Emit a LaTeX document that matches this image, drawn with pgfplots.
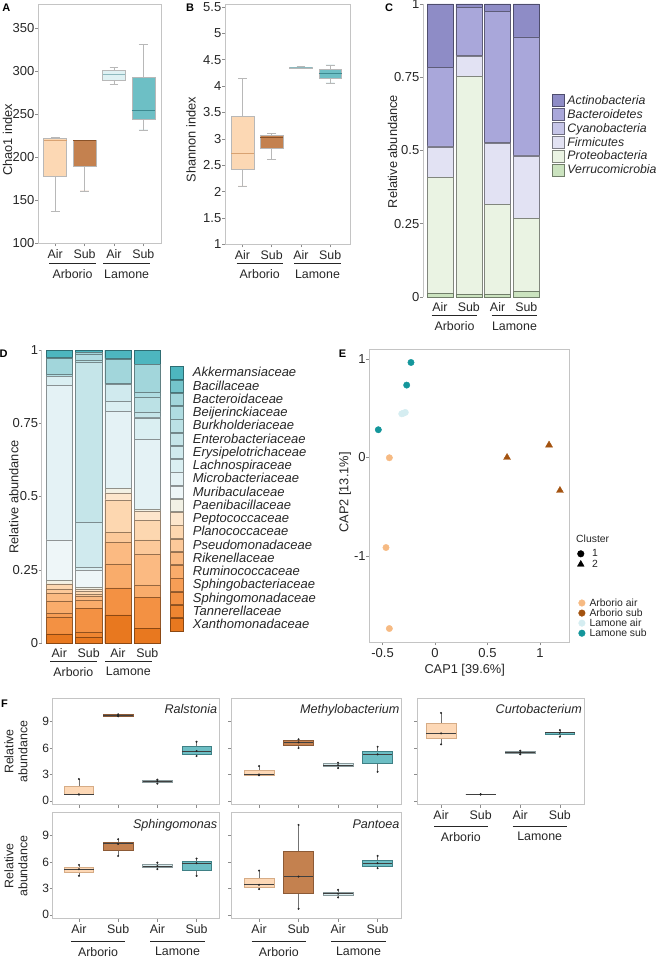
\documentclass[border=0pt]{standalone}
\usepackage{fontspec}
\setmainfont{Liberation Sans}
\usepackage{pgfplots}
\pgfplotsset{compat=1.18}
\usepgfplotslibrary{statistics}

\newcommand{\fsz}[1]{\fontsize{#1}{#1}\selectfont}

% general
\definecolor{txt}{HTML}{262626}
\definecolor{frame}{HTML}{C4C4C4}
\definecolor{tickc}{HTML}{8C8C8C}
\definecolor{boxedge}{HTML}{B8B8B8}
% box plots A, B
\definecolor{aa}{HTML}{FCD8B4}\definecolor{aaM}{HTML}{D8A272}
\definecolor{as}{HTML}{C4814F}\definecolor{asM}{HTML}{8A5228}
\definecolor{la}{HTML}{DFF1F3}\definecolor{laM}{HTML}{8DB9BE}
\definecolor{ls}{HTML}{6DBFC5}\definecolor{lsM}{HTML}{3D8A90}
% box plots F
\definecolor{fa}{HTML}{FDD8B6}\definecolor{faE}{HTML}{D6AC86}
\definecolor{fs}{HTML}{C4814F}\definecolor{fsE}{HTML}{8C5A36}
\definecolor{fl}{HTML}{D9EDF0}\definecolor{flE}{HTML}{8A9A9C}
\definecolor{fls}{HTML}{6CBEC4}\definecolor{flsE}{HTML}{3F8085}
% scatter E
\definecolor{eaa}{HTML}{F6BA83}
\definecolor{eas}{HTML}{A3520F}
\definecolor{ela}{HTML}{D5EDF1}
\definecolor{els}{HTML}{14969B}
% phyla C
\definecolor{cAct}{HTML}{8E8CC6}
\definecolor{cBac}{HTML}{A9A7DA}
\definecolor{cCya}{HTML}{C6C5E8}
\definecolor{cFir}{HTML}{E2E2F3}
\definecolor{cPro}{HTML}{EAF3E3}
\definecolor{cVer}{HTML}{CBE3BF}
% families D
\definecolor{d01}{HTML}{4DB6BF}
\definecolor{d02}{HTML}{74C4CB}
\definecolor{d03}{HTML}{A2D6DB}
\definecolor{d04}{HTML}{AFDCE1}
\definecolor{d05}{HTML}{BBE1E5}
\definecolor{d06}{HTML}{C5E5E9}
\definecolor{d07}{HTML}{D0EAEE}
\definecolor{d08}{HTML}{DAEFF2}
\definecolor{d09}{HTML}{E4F2F5}
\definecolor{d10}{HTML}{EEF6F8}
\definecolor{d11}{HTML}{F2F1E5}
\definecolor{d12}{HTML}{FDE6CC}
\definecolor{d13}{HTML}{FDD7B0}
\definecolor{d14}{HTML}{FCC99A}
\definecolor{d15}{HTML}{FBBA82}
\definecolor{d16}{HTML}{F9AC6B}
\definecolor{d17}{HTML}{F79E56}
\definecolor{d18}{HTML}{F39143}
\definecolor{d19}{HTML}{EF8631}
\definecolor{d20}{HTML}{E8781F}

\pgfplotsset{
  base/.style={
    scale only axis, anchor=north west, enlargelimits=false, clip=false,
    axis line style={draw=frame, line width=0.8pt},
    tick style={draw=tickc, line width=0.5pt},
    tick align=outside, major tick length=3pt,
    xtick pos=left, ytick pos=left,
    tick label style={font=\fsz{13}, text=txt},
    /pgf/number format/assume math mode=true,
    yticklabel style={inner sep=0.5pt},
    xticklabel style={inner sep=0pt, yshift=-2.8pt},
  },
  cat/.style={xtick={1,2,3,4}, xticklabels={Air,Sub,Air,Sub},
    xticklabel style={font=\fsz{12.4}}},
  stackax/.style={base, cat, ybar stacked, ymin=0, ymax=1,
    axis y line*=left, axis x line*=bottom,
    y axis line style={-, draw=frame, line width=0.8pt},
    x axis line style={draw=none}, xtick style={draw=none},
    ytick={0,0.25,0.5,0.75,1}},
  fax/.style={base, cat, height=106pt, ymin=-0.45, ymax=11.62,
    ytick={0,3,6,9}, yticklabel style={font=\fsz{12}}},
  leg/.style={draw=none, fill=none, inner sep=0pt, outer sep=0pt,
    column sep=0pt, nodes={inner sep=0pt, text=txt}},
}
\tikzset{
  lab/.style={font=\fsz{12.8}, text=txt, inner sep=0pt},
  pl/.style={font=\bfseries\fsz{11}, text=black, inner sep=0pt},
  ftitle/.style={anchor=north east, font=\itshape\fsz{12.6}, text=txt, inner sep=2pt},
}

% box plot for A and B: position, whiskers, quartiles, median, fill, median colour
\newcommand{\bx}[8]{\addplot[draw=boxedge, line width=0.5pt, fill=#7,
  boxplot prepared={draw direction=y, draw position=#1, lower whisker=#2,
    lower quartile=#3, median=#4, upper quartile=#5, upper whisker=#6,
    box extend=0.78, whisker extend=0.3,
    every median/.style={draw=#8, line width=1pt}}]
  coordinates {};}
% box plot for F, with its three samples
\newcommand{\fb}[8]{\addplot[draw=#8, line width=0.6pt, fill=#7,
  boxplot prepared={draw direction=y, draw position=#1, lower whisker=#2,
    lower quartile=#3, median=#4, upper quartile=#5, upper whisker=#6,
    box extend=0.75, whisker extend=0,
    every median/.style={draw=black!75, line width=0.8pt},
    every whisker/.style={draw=black!55, line width=0.5pt}}]
  coordinates {};
  \addplot[only marks, mark=*, mark size=0.8pt, black!85]
  coordinates {(#1,#2) (#1,#4) (#1,#6)};}
% site labels under the categories
\newcommand{\grp}[6]{%
  \draw[txt, line width=0.7pt] (#1pt,-#5pt) -- (#2pt,-#5pt) (#3pt,-#5pt) -- (#4pt,-#5pt);
  \node[font=\fsz{12.4}, text=txt, inner sep=0pt] at ({(#1+#2)/2*1pt},-#6pt) {Arborio};
  \node[font=\fsz{12.4}, text=txt, inner sep=0pt] at ({(#3+#4)/2*1pt},-#6pt) {Lamone};}

\begin{document}
\begin{tikzpicture}
\useasboundingbox (0pt,0pt) rectangle (662pt,-957pt);

% ---------- A: Chao1
\begin{axis}[base, cat, at={(38pt,-4pt)}, width=123pt, height=239.3pt,
  xmin=0.415, xmax=4.6, ymin=100, ymax=378.3, ytick={100,150,...,350}]
\bx{1}{137}{178}{220}{222}{223}{aa}{aaM}
\bx{2}{161}{190}{219}{219.5}{220}{as}{asM}
\bx{3}{285}{290}{296}{301}{305}{la}{laM}
\bx{4}{232}{244}{255}{293}{331}{ls}{lsM}
\end{axis}

% ---------- B: Shannon
\begin{axis}[base, cat, at={(225pt,-4pt)}, width=125pt, height=240.5pt,
  xmin=0.40, xmax=4.68, ymin=1, ymax=5.555,
  ytick={1,1.5,2,2.5,3,3.5,4,4.5,5,5.5}]
\bx{1}{2.11}{2.42}{2.72}{3.43}{4.14}{aa}{aaM}
\bx{2}{2.61}{2.82}{3.03}{3.07}{3.10}{as}{asM}
\bx{3}{4.33}{4.34}{4.35}{4.36}{4.37}{la}{laM}
\bx{4}{4.06}{4.14}{4.24}{4.31}{4.40}{ls}{lsM}
\end{axis}

% ---------- C: phyla
\begin{axis}[stackax, at={(423pt,-4pt)}, width=118pt, height=293pt,
  xmin=0.409, xmax=4.51, bar width=26pt,
  legend image code/.code={\draw[#1] (0pt,-6pt) rectangle (12pt,6pt);
    \path[draw=none, fill=none] (0pt,0pt) -- (15.3pt,0pt);},
  reverse legend, legend cell align=left,
  legend style={leg, at={(rel axis cs:1.093,0.692)}, anchor=north west,
    row sep=1.5pt, font=\itshape\fontsize{12.3}{13.3}\selectfont}]
\addplot[fill=cVer, draw=cVer!55!black] coordinates {(1,0.012) (2,0.008) (3,0.010) (4,0.020)};
\addlegendentry{\strut Verrucomicrobia}
\addplot[fill=cPro, draw=cPro!55!black] coordinates {(1,0.396) (2,0.745) (3,0.307) (4,0.249)};
\addlegendentry{\strut Proteobacteria}
\addplot[fill=cFir, draw=cFir!55!black] coordinates {(1,0.104) (2,0.069) (3,0.207) (4,0.213)};
\addlegendentry{\strut Firmicutes}
\addplot[fill=cCya, draw=cCya!55!black] coordinates {(1,0.004) (2,0.002) (3,0.003) (4,0.003)};
\addlegendentry{\strut Cyanobacteria}
\addplot[fill=cBac, draw=cBac!55!black] coordinates {(1,0.268) (2,0.165) (3,0.447) (4,0.403)};
\addlegendentry{\strut Bacteroidetes}
\addplot[fill=cAct, draw=cAct!55!black] coordinates {(1,0.216) (2,0.011) (3,0.026) (4,0.112)};
\addlegendentry{\strut Actinobacteria}
\end{axis}

% ---------- D: families
\begin{axis}[stackax, at={(41.7pt,-350pt)}, width=120.3pt, height=293pt,
  xmin=0.4, xmax=4.5, bar width=26.5pt,
  legend image code/.code={\draw[#1] (0pt,-6.2pt) rectangle (12.7pt,6.2pt);
    \path[draw=none, fill=none] (0pt,0pt) -- (22.7pt,0pt);},
  reverse legend, legend cell align=left,
  legend style={leg, at={(rel axis cs:1.0665,0.944)}, anchor=north west,
    row sep=0.45pt, font=\itshape\fontsize{13}{13.98}\selectfont}]
\addplot[fill=d20, draw=d20!60!black] coordinates {(1,0.031) (2,0.020) (3,0.096) (4,0.050)};
\addlegendentry{\strut Xanthomonadaceae}
\addplot[fill=d19, draw=d19!60!black] coordinates {(1,0.000) (2,0.016) (3,0.000) (4,0.000)};
\addlegendentry{\strut Tannerellaceae}
\addplot[fill=d18, draw=d18!60!black] coordinates {(1,0.058) (2,0.083) (3,0.092) (4,0.106)};
\addlegendentry{\strut Sphingomonadaceae}
\addplot[fill=d17, draw=d17!60!black] coordinates {(1,0.013) (2,0.000) (3,0.000) (4,0.000)};
\addlegendentry{\strut Sphingobacteriaceae}
\addplot[fill=d16, draw=d16!60!black] coordinates {(1,0.042) (2,0.026) (3,0.082) (4,0.042)};
\addlegendentry{\strut Ruminococcaceae}
\addplot[fill=d15, draw=d15!60!black] coordinates {(1,0.026) (2,0.014) (3,0.074) (4,0.105)};
\addlegendentry{\strut Rikenellaceae}
\addplot[fill=d14, draw=d14!60!black] coordinates {(1,0.015) (2,0.008) (3,0.033) (4,0.049)};
\addlegendentry{\strut Pseudomonadaceae}
\addplot[fill=d13, draw=d13!60!black] coordinates {(1,0.017) (2,0.009) (3,0.112) (4,0.066)};
\addlegendentry{\strut Planococcaceae}
\addplot[fill=d12, draw=d12!60!black] coordinates {(1,0.000) (2,0.008) (3,0.023) (4,0.031)};
\addlegendentry{\strut Peptococcaceae}
\addplot[fill=d11, draw=d11!60!black] coordinates {(1,0.011) (2,0.007) (3,0.017) (4,0.008)};
\addlegendentry{\strut Paenibacillaceae}
\addplot[fill=d10, draw=d10!60!black] coordinates {(1,0.139) (2,0.059) (3,0.000) (4,0.000)};
\addlegendentry{\strut Muribaculaceae}
\addplot[fill=d09, draw=d09!60!black] coordinates {(1,0.527) (2,0.000) (3,0.262) (4,0.239)};
\addlegendentry{\strut Microbacteriaceae}
\addplot[fill=d08, draw=d08!60!black] coordinates {(1,0.033) (2,0.009) (3,0.033) (4,0.072)};
\addlegendentry{\strut Lachnospiraceae}
\addplot[fill=d07, draw=d07!60!black] coordinates {(1,0.000) (2,0.152) (3,0.058) (4,0.004)};
\addlegendentry{\strut Erysipelotrichaceae}
\addplot[fill=d06, draw=d06!60!black] coordinates {(1,0.000) (2,0.547) (3,0.000) (4,0.017)};
\addlegendentry{\strut Enterobacteriaceae}
\addplot[fill=d05, draw=d05!60!black] coordinates {(1,0.000) (2,0.008) (3,0.000) (4,0.051)};
\addlegendentry{\strut Burkholderiaceae}
\addplot[fill=d04, draw=d04!60!black] coordinates {(1,0.005) (2,0.018) (3,0.004) (4,0.015)};
\addlegendentry{\strut Beijerinckiaceae}
\addplot[fill=d03, draw=d03!60!black] coordinates {(1,0.055) (2,0.008) (3,0.081) (4,0.097)};
\addlegendentry{\strut Bacteroidaceae}
\addplot[fill=d02, draw=d02!60!black] coordinates {(1,0.003) (2,0.000) (3,0.006) (4,0.000)};
\addlegendentry{\strut Bacillaceae}
\addplot[fill=d01, draw=d01!60!black] coordinates {(1,0.025) (2,0.008) (3,0.027) (4,0.048)};
\addlegendentry{\strut Akkermansiaceae}
\end{axis}

% ---------- E: CAP ordination
\begin{axis}[base, at={(369.3pt,-349.3pt)}, width=200pt, height=293pt,
  xmin=-0.626, xmax=1.279, ymin=-1.88, ymax=1.10,
  xtick={-0.5,0,0.5,1}, ytick={-1,0,1},
  legend image code/.code={\fill[#1] (3.3pt,0pt) circle (3.3pt);
    \path[draw=none, fill=none] (0pt,0pt) -- (10.9pt,0pt);},
  legend cell align=left,
  legend style={leg, at={(rel axis cs:1.0455,0.150)}, anchor=north west,
    row sep=0.8pt, font=\fontsize{10.4}{11.1}\selectfont}]
\addplot[only marks, mark=*, mark size=3.2pt, eaa] coordinates {(-0.435,-0.003) (-0.467,-0.916) (-0.435,-1.74)};
\addlegendentry{\strut Arborio air}
\addplot[only marks, mark=triangle*, mark size=4pt, eas] coordinates {(0.686,0.0) (1.086,0.126) (1.19,-0.336)};
\addlegendentry{\strut Arborio sub}
\addplot[only marks, mark=*, mark size=3.2pt, ela] coordinates {(-0.317,0.444) (-0.283,0.458) (-0.300,0.450)};
\addlegendentry{\strut Lamone air}
\addplot[only marks, mark=*, mark size=3.2pt, els] coordinates {(-0.229,0.966) (-0.270,0.736) (-0.540,0.282)};
\addlegendentry{\strut Lamone sub}
\end{axis}
% cluster shapes legend
\begin{axis}[at={(369.3pt,-349.3pt)}, anchor=north west, scale only axis,
  width=200pt, height=293pt, hide axis, xmin=0, xmax=1, ymin=0, ymax=1,
  legend image code/.code={\draw[#1] plot coordinates {(3.3pt,0pt)};
    \path[draw=none, fill=none] (0pt,0pt) -- (14.6pt,0pt);},
  legend cell align=left,
  legend style={leg, at={(rel axis cs:1.0405,0.318)}, anchor=north west,
    row sep=1.2pt, font=\fontsize{10.4}{11.2}\selectfont}]
\addplot[draw=none, forget plot] coordinates {(0,0)};
\addlegendimage{only marks, mark=*, mark size=3.3pt, black}
\addlegendentry{\strut 1}
\addlegendimage{only marks, mark=triangle*, mark size=3.9pt, black}
\addlegendentry{\strut 2}
\end{axis}

% ---------- F: genera
\begin{axis}[fax, at={(52.7pt,-698.7pt)}, width=166.6pt, xmin=0.33, xmax=4.58,
  xticklabels={}]
\fb{1}{0.70}{0.72}{0.73}{1.60}{2.47}{fa}{faE}
\fb{2}{9.62}{9.66}{9.70}{9.80}{9.85}{fs}{fsE}
\fb{3}{1.95}{2.10}{2.24}{2.30}{2.40}{fl}{flE}
\fb{4}{5.09}{5.32}{5.66}{6.15}{6.72}{fls}{flsE}
\node[ftitle, yshift=-3.3pt] at (rel axis cs:1,1) {Ralstonia};
\end{axis}

\begin{axis}[fax, at={(231pt,-698.7pt)}, width=170.7pt, xmin=0.29, xmax=4.61,
  xticklabels={}, yticklabels={}]
\fb{1}{2.90}{2.95}{3.00}{3.45}{3.95}{fa}{faE}
\fb{2}{6.00}{6.35}{6.65}{6.90}{7.00}{fs}{fsE}
\fb{3}{3.72}{3.87}{4.05}{4.26}{4.33}{fl}{flE}
\fb{4}{3.30}{4.26}{5.28}{5.66}{6.15}{fls}{flsE}
\node[ftitle, yshift=-3.3pt] at (rel axis cs:1,1) {Methylobacterium};
\end{axis}

\begin{axis}[fax, at={(417.3pt,-698.7pt)}, width=166.7pt, xmin=0.40, xmax=4.61,
  yticklabels={}]
\fb{1}{6.42}{7.10}{7.67}{8.81}{10.0}{fa}{faE}
\fb{2}{0.73}{0.73}{0.73}{0.73}{0.73}{fs}{black!70}
\fb{3}{5.30}{5.40}{5.51}{5.60}{5.70}{fl}{flE}
\fb{4}{7.30}{7.55}{7.74}{7.85}{8.05}{fls}{flsE}
\node[ftitle, yshift=-3.3pt] at (rel axis cs:1,1) {Curtobacterium};
\end{axis}

\begin{axis}[fax, at={(52.7pt,-812.7pt)}, width=166.6pt, xmin=0.33, xmax=4.58]
\fb{1}{4.43}{4.85}{5.19}{5.42}{5.68}{fa}{faE}
\fb{2}{6.70}{7.39}{8.07}{8.30}{8.60}{fs}{fsE}
\fb{3}{5.20}{5.42}{5.55}{5.76}{5.94}{fl}{flE}
\fb{4}{4.43}{5.11}{5.87}{6.14}{6.40}{fls}{flsE}
\node[ftitle, yshift=-4.6pt] at (rel axis cs:1,1) {Sphingomonas};
\end{axis}

\begin{axis}[fax, at={(231pt,-812.7pt)}, width=170.7pt, xmin=0.29, xmax=4.61,
  yticklabels={}]
\fb{1}{2.92}{3.10}{3.41}{4.17}{5.03}{fa}{faE}
\fb{2}{0.68}{2.47}{4.35}{7.27}{10.23}{fs}{fsE}
\fb{3}{1.97}{2.27}{2.40}{2.58}{2.84}{fl}{flE}
\fb{4}{5.30}{5.57}{5.87}{6.25}{6.70}{fls}{flsE}
\node[ftitle, yshift=-4.6pt] at (rel axis cs:1,1) {Pantoea};
\end{axis}

% ---------- labels outside the axes
\node[pl] at (6.3pt,-8pt) {A};
\node[pl] at (190pt,-8pt) {B};
\node[pl] at (389pt,-8pt) {C};
\node[pl] at (3.7pt,-353.7pt) {D};
\node[pl] at (342.5pt,-353.7pt) {E};
\node[pl] at (4.5pt,-703.3pt) {F};

\node[lab, rotate=90] at (7.5pt,-140pt) {Chao1 index};
\node[lab, rotate=90] at (191pt,-139.5pt) {Shannon index};
\node[lab, rotate=90] at (392.5pt,-151.5pt) {Relative abundance};
\node[lab, rotate=90] at (13.8pt,-497pt) {Relative abundance};
\node[lab, rotate=90] at (345pt,-492.5pt) {CAP2 [13.1\%]};
\node[lab] at (464.7pt,-670pt) {CAP1 [39.6\%]};
\node[lab, rotate=90, align=center, font=\fontsize{12.4}{14}\selectfont] at (16pt,-751.5pt) {Relative\\abundance};
\node[lab, rotate=90, align=center, font=\fontsize{12.4}{14}\selectfont] at (16pt,-866pt) {Relative\\abundance};
\node[anchor=west, inner sep=0pt, font=\fsz{10.4}, text=txt] at (576pt,-538.3pt) {Cluster};

\grp{49.3}{95.7}{103.3}{150}{263}{274}
\grp{236.7}{282.7}{294.3}{340.7}{263.3}{274}
\grp{431.7}{477.3}{491.7}{537.3}{315}{326}
\grp{50}{96.7}{105}{151.7}{661.7}{671.7}
\grp{71}{125}{150}{205}{941}{951.7}
\grp{251.7}{306}{331}{386}{941}{951.7}
\grp{434}{487.7}{512.7}{566.7}{826}{836.7}
\end{tikzpicture}
\end{document}
